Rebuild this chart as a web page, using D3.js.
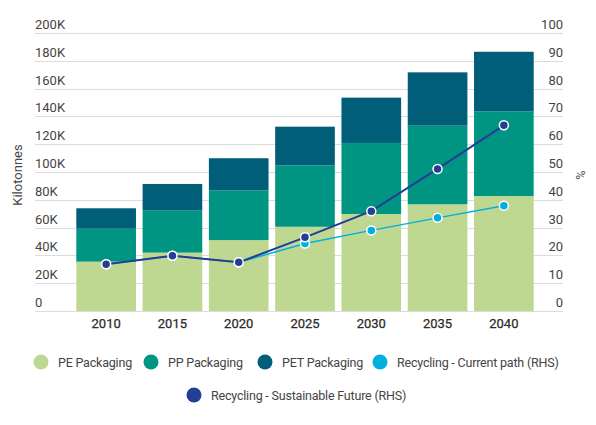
<!DOCTYPE html>
<html lang="en">
<head>
<meta charset="UTF-8">
<script src="https://cdn.jsdelivr.net/npm/d3@7"></script>
<title>Packaging and recycling</title>
<style>
    body { margin: 0; background: #fff; }
    svg { display: block; font-family: Roboto, sans-serif; }
    .tick-label { font-size: 13px; fill: #444; }
    .legend-label { font-size: 12.5px; fill: #444; letter-spacing: -0.2px; }
</style>
</head>
<body>
<div id="chart"></div>
<script>
    // Data
    const years = ["2010", "2015", "2020", "2025", "2030", "2035", "2040"];
    const pePackaging = [35.5, 42, 51, 60.6, 69.8, 76.8, 82.7];      // kilotonnes (thousands)
    const ppPackaging = [23.7, 30.2, 35.8, 44.2, 51.1, 56.5, 61];
    const petPackaging = [14.7, 19.2, 23.1, 27.8, 32.6, 38.4, 42.8];
    const recyclingCurrent = [16.8, 19.9, 17.5, 24.3, 29.0, 33.5, 37.9];      // %
    const recyclingSustainable = [16.8, 19.9, 17.5, 26.5, 35.9, 51.1, 66.8];  // %
    const leftTicks = [0, 20, 40, 60, 80, 100, 120, 140, 160, 180, 200];
    const rightTicks = [0, 10, 20, 30, 40, 50, 60, 70, 80, 90, 100];

    const width = 596, height = 425;
    const plot = { left: 35, right: 563, top: 33, bottom: 311 };

    const colors = {
        pe: "#bfd891",
        pp: "#009582",
        pet: "#005e79",
        current: "#00aee0",
        sustainable: "#233e93"
    };

    const svg = d3.select("#chart").append("svg")
        .attr("width", width)
        .attr("height", height);

    const x = d3.scaleBand()
        .domain(years)
        .range([73, 537])
        .paddingInner(0.1)
        .paddingOuter(0.05);

    const yLeft = d3.scaleLinear().domain([0, 200]).range([plot.bottom, plot.top]);
    const yRight = d3.scaleLinear().domain([0, 100]).range([plot.bottom, plot.top]);

    // gridlines
    svg.append("g")
        .selectAll("line")
        .data(leftTicks)
        .join("line")
        .attr("x1", plot.left)
        .attr("x2", plot.right)
        .attr("y1", d => Math.round(yLeft(d)) + 0.5)
        .attr("y2", d => Math.round(yLeft(d)) + 0.5)
        .attr("stroke", "#dcdcdc")
        .attr("stroke-width", 1);

    // left tick labels, sitting above their gridlines
    svg.append("g")
        .selectAll("text")
        .data(leftTicks)
        .join("text")
        .attr("class", "tick-label")
        .attr("x", plot.left)
        .attr("y", d => yLeft(d) - 4)
        .text(d => d === 0 ? "0" : d + "K");

    // right tick labels
    svg.append("g")
        .selectAll("text")
        .data(rightTicks)
        .join("text")
        .attr("class", "tick-label")
        .attr("x", plot.right)
        .attr("y", d => yRight(d) - 4)
        .attr("text-anchor", "end")
        .text(d => d);

    // stacked bars
    const rows = years.map((yr, i) => ({
        year: yr,
        pe: pePackaging[i],
        pp: ppPackaging[i],
        pet: petPackaging[i]
    }));
    const stack = d3.stack().keys(["pe", "pp", "pet"])(rows);

    svg.append("g")
        .selectAll("g")
        .data(stack)
        .join("g")
        .attr("fill", d => colors[d.key])
        .selectAll("rect")
        .data(d => d)
        .join("rect")
        .attr("x", d => x(d.data.year))
        .attr("width", x.bandwidth())
        .attr("y", d => yLeft(d[1]))
        .attr("height", d => yLeft(d[0]) - yLeft(d[1]));

    // x axis labels
    svg.append("g")
        .selectAll("text")
        .data(years)
        .join("text")
        .attr("class", "tick-label")
        .attr("x", d => x(d) + x.bandwidth() / 2)
        .attr("y", 328)
        .attr("text-anchor", "middle")
        .style("fill", "#2a2a2a")
        .style("stroke", "#2a2a2a")
        .style("stroke-width", 0.25)
        .text(d => d);

    // recycling lines (RHS)
    const line = d3.line()
        .x((d, i) => x(years[i]) + x.bandwidth() / 2)
        .y(d => yRight(d));

    const drawSeries = (values, color, lw) => {
        svg.append("path")
            .datum(values)
            .attr("d", line)
            .attr("fill", "none")
            .attr("stroke", color)
            .attr("stroke-width", lw);
        svg.append("g")
            .selectAll("circle")
            .data(values)
            .join("circle")
            .attr("cx", (d, i) => x(years[i]) + x.bandwidth() / 2)
            .attr("cy", d => yRight(d))
            .attr("r", 4.5)
            .attr("fill", color)
            .attr("stroke", "#fff")
            .attr("stroke-width", 1.5);
    };
    drawSeries(recyclingCurrent, colors.current, 1.5);
    drawSeries(recyclingSustainable, colors.sustainable, 2);

    // axis titles
    svg.append("text")
        .attr("transform", "translate(22,175) rotate(-90)")
        .attr("text-anchor", "middle")
        .attr("class", "tick-label")
        .text("Kilotonnes");

    svg.append("text")
        .attr("transform", "translate(576,175) rotate(90)")
        .attr("text-anchor", "middle")
        .attr("class", "tick-label")
        .text("%");

    // legend
    const legendItems = [
        { label: "PE Packaging", color: colors.pe, cx: 41, cy: 362 },
        { label: "PP Packaging", color: colors.pp, cx: 151, cy: 362 },
        { label: "PET Packaging", color: colors.pet, cx: 265, cy: 362 },
        { label: "Recycling - Current path (RHS)", color: colors.current, cx: 380, cy: 362 },
        { label: "Recycling - Sustainable Future (RHS)", color: colors.sustainable, cx: 194, cy: 395 }
    ];

    const legend = svg.append("g")
        .selectAll("g")
        .data(legendItems)
        .join("g")
        .attr("transform", d => `translate(${d.cx},${d.cy})`);

    legend.append("circle")
        .attr("r", 7.5)
        .attr("fill", d => d.color);

    legend.append("text")
        .attr("class", "legend-label")
        .attr("x", 17)
        .attr("y", 4.5)
        .text(d => d.label);
</script>
</body>
</html>
